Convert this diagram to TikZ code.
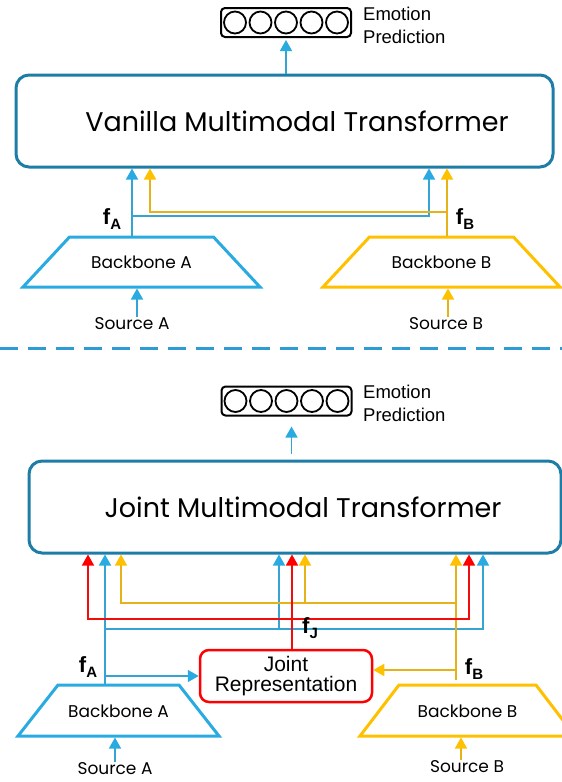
\documentclass[tikz,border=0pt]{standalone}
\usepackage{fontspec}
\usepackage{tikz}
\usetikzlibrary{arrows.meta}
\usetikzlibrary{calc}
\newfontfamily\geofont{Poppins}
\newfontfamily\arialfont{Liberation Sans}
\definecolor{cblue}{HTML}{29ABE2}
\definecolor{cyel}{HTML}{FFC000}
\definecolor{cred}{HTML}{FF0000}
\definecolor{cteal}{HTML}{1D7DA6}
\definecolor{csep}{HTML}{2E9AD6}
\newcommand{\feat}[1]{\textbf{f}\raisebox{-5.5pt}{\fontsize{15}{15}\selectfont\textbf{#1}}}

\begin{document}
\begin{tikzpicture}
	[
	x=1pt, y=-1pt,
	bl/.style = {draw=cblue!85!gray, line width=1.5pt, -{Triangle[width=12pt,length=11pt,color=cblue]}},
	yl/.style = {draw=cyel!80!gray, line width=1.5pt, -{Triangle[width=12pt,length=11pt,color=cyel]}},
	rd/.style = {draw=cred!90!gray, line width=1.5pt, -{Triangle[width=12pt,length=11pt,color=cred]}},
	tfbox/.style = {draw=cteal, line width=3pt, rounded corners=13pt, minimum height=92pt, inner sep=0pt, font=\geofont\fontsize{27}{32}\selectfont},
	bbtxt/.style = {inner sep=0pt, font=\geofont\fontsize{17}{20}\selectfont},
	bbline/.style = {line width=3pt, line join=miter},
	srctxt/.style = {inner sep=1pt, font=\geofont\fontsize{17}{20}\selectfont},
	predbox/.style = {draw, line width=2pt, rounded corners=4pt, minimum width=130pt, minimum height=29pt, inner sep=0pt},
	unit/.style = {draw, circle, line width=1.8pt, minimum size=22pt, inner sep=0pt},
	predtxt/.style = {anchor=west, align=left, inner sep=0pt, font=\arialfont\fontsize{18.5}{23}\selectfont},
	featlbl/.style = {inner sep=0pt, font=\arialfont\fontsize{22}{22}\selectfont},
	jrbox/.style = {draw=cred, line width=2.5pt, rounded corners=9pt, minimum width=172pt, minimum height=52pt, align=center, inner sep=0pt, font=\arialfont\fontsize{21}{20.5}\selectfont},
	sepline/.style = {draw=csep, line width=3pt, dash pattern=on 18pt off 10pt}
	]
	\useasboundingbox (0,0) rectangle (562,782);

	% vanilla fusion
	\node[tfbox, minimum width=537pt] (vmt) at (284.5,121) {\hspace*{25pt}Vanilla Multimodal Transformer};
	\node[predbox] (predA) at (286,22.5) {};
	\foreach \i in {-2,...,2}
		\node[unit] (uA\i) at ([xshift={\i*25.5pt}]predA.center) {};
	\node[predtxt] (emoA) at (363,25) {Emotion\\Prediction};
	\draw[bl, shorten >=2pt] (vmt.north -| predA) -- (predA.south);

	\node[bbtxt] (bbA) at (141.5,262) {Backbone A};
	\node[bbtxt] (bbB) at (441.5,262) {Backbone B};
	\draw[bbline, cblue] ($(bbA)+(-72,-25)$) -- ($(bbA)+(72,-25)$) -- ($(bbA)+(118.5,25)$) -- ($(bbA)+(-118.5,25)$) -- cycle;
	\draw[bbline, cyel] ($(bbB)+(-72,-25)$) -- ($(bbB)+(72,-25)$) -- ($(bbB)+(118.5,25)$) -- ($(bbB)+(-118.5,25)$) -- cycle;
	\coordinate (bbAn) at ($(bbA)+(0,-26.5)$);
	\coordinate (bbAs) at ($(bbA)+(0,26.5)$);
	\coordinate (bbBn) at ($(bbB)+(0,-26.5)$);
	\coordinate (bbBs) at ($(bbB)+(0,26.5)$);

	\node[srctxt] (srcA) at (132,324) {Source A};
	\node[srctxt] (srcB) at (446,324) {Source B};
	\draw[bl] ([xshift=5pt]srcA.north) -- ([xshift=5pt]srcA.north |- bbAs);
	\draw[yl] ([xshift=2pt]srcB.north) -- ([xshift=2pt]srcB.north |- bbBs);

	\coordinate (fA) at (132,0 |- bbAn);
	\coordinate (fB) at (447,0 |- bbBn);
	\draw[bl] (fA) -- (fA |- vmt.south);
	\draw[yl] (fB) -- (fB |- vmt.south);
	\draw[bl] (fA |- 0,216) -| ([xshift=-18pt]fB |- vmt.south);
	\draw[yl] (fB |- 0,212) -| ([xshift=18pt]fA |- vmt.south);
	\node[featlbl] (labA) at (112,219) {\feat{A}};
	\node[featlbl] (labB) at (465,219) {\feat{B}};

	\draw[sepline] (0,348) -- (562,348);

	% joint fusion
	\node[tfbox, minimum width=532pt] (jmt) at (295,507) {\hspace*{16pt}Joint Multimodal Transformer};
	\node[predbox] (predB) at (286.5,401) {};
	\foreach \i in {-2,...,2}
		\node[unit] (uB\i) at ([xshift={\i*25.5pt}]predB.center) {};
	\node[predtxt] (emoB) at (363,403) {Emotion\\Prediction};
	\coordinate (oB) at ([xshift=5pt]predB.south);
	\draw[bl, shorten <=6pt, shorten >=10pt] (jmt.north -| oB) -- (oB);

	\node[jrbox] (jr) at (286,676) {Joint\\Representation};

	\node[bbtxt] (bbA2) at (118.5,711) {Backbone A};
	\node[bbtxt] (bbB2) at (467.5,711) {Backbone B};
	\draw[bbline, cblue] ($(bbA2)+(-60.5,-26)$) -- ($(bbA2)+(60.5,-26)$) -- ($(bbA2)+(100.5,25)$) -- ($(bbA2)+(-100.5,25)$) -- cycle;
	\draw[bbline, cyel] ($(bbB2)+(-68.5,-26)$) -- ($(bbB2)+(68.5,-26)$) -- ($(bbB2)+(107.5,25)$) -- ($(bbB2)+(-107.5,25)$) -- cycle;
	\coordinate (bbA2n) at ($(bbA2)+(0,-27.5)$);
	\coordinate (bbA2s) at ($(bbA2)+(0,26.5)$);
	\coordinate (bbB2s) at ($(bbB2)+(0,26.5)$);

	\node[srctxt] (srcA2) at (115,769) {Source A};
	\node[srctxt] (srcB2) at (467,767) {Source B};
	\draw[bl] (srcA2.north) -- (srcA2.north |- bbA2s);
	\draw[yl] ([xshift=-6pt]srcB2.north) -- ([xshift=-6pt]srcB2.north |- bbB2s);

	\coordinate (gA) at (105,0 |- bbA2n);
	\coordinate (gB) at (456,680);
	\coordinate (gJ) at ([xshift=6pt]jr.north);
	\coordinate (busY) at (0,603);
	\coordinate (busR) at (0,619);
	\coordinate (busB) at (0,629);

	\draw[bl] (gA) -- (gA |- jmt.south);
	\draw[bl] (gA |- busB) -| (279,0 |- jmt.south);
	\draw[bl] (gA |- busB) -| (483,0 |- jmt.south);
	\draw[bl] (gA |- jr.west) -- (jr.west);

	\draw[yl] (gB) -- (gB |- jmt.south);
	\draw[yl] (gB |- busY) -| (121,0 |- jmt.south);
	\draw[yl] (305,0 |- busY) -- (305,0 |- jmt.south);
	\draw[yl] ([yshift=6pt]gB |- jr.east) -- ([yshift=6pt]jr.east);

	\draw[rd] (gJ) -- (gJ |- jmt.south);
	\draw[rd] (gJ |- busR) -| (88,0 |- jmt.south);
	\draw[rd] (gJ |- busR) -| (469,0 |- jmt.south);

	\node[featlbl] (labA2) at (88,667) {\feat{A}};
	\node[featlbl] (labB2) at (474,669) {\feat{B}};
	\node[featlbl] (labJ) at (310,628) {\feat{J}};
\end{tikzpicture}
\end{document}
